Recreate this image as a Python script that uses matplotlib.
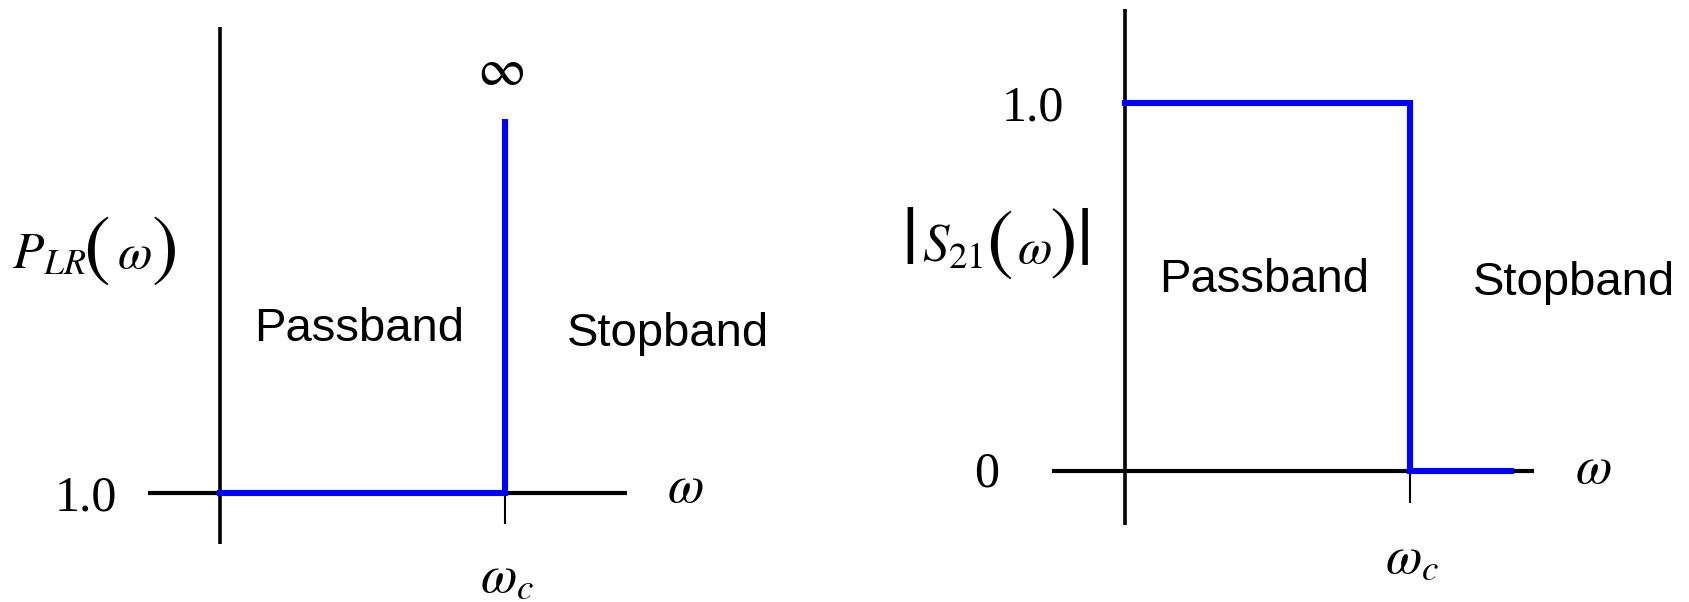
import matplotlib
matplotlib.use("Agg")
import matplotlib.pyplot as plt

plt.rcParams['mathtext.fontset'] = 'stix'

# frequency axis in units of the cutoff, wc = 1
w_c = 1.0

# insertion loss ratio of the ideal low-pass: 1.0 up to wc, then jumps to infinity
plr_w = [0.0, w_c, w_c]
plr_y = [1.0, 1.0, 10.0]     # 10.0 is just the drawn height of the "infinite" rise

# transmission |S21| of the ideal low-pass: 1.0 in the passband, 0 above wc
s21_w = [0.0, w_c, w_c, 1.354]
s21_y = [1.0, 1.0, 0.0, 0.0]

BLUE = '#0000ff'
SANS = 'Liberation Sans'
SERIF = 'STIXGeneral'

W, H = 1690, 602
fig = plt.figure(figsize=(W / 100, H / 100), dpi=100)


def put(x, y, s, size, **kw):
    # place a piece of a formula by pixel position (from top-left)
    fig.text(x / W, 1 - y / H, s, fontsize=size, ha='center', va='center', **kw)


# ---- left: P_LR(w) ----
axL = fig.add_axes([0, 0, 0.5, 1])
axL.set_xlim(-220 / 285, (845 - 220) / 285)
axL.set_ylim(1 - 109 / 41.22, 1 + 493 / 41.22)
axL.axis('off')

axL.plot([0, 0], [-0.238, 12.31], color='black', lw=2.6, solid_capstyle='butt')
axL.plot([-0.253, 1.428], [1.0, 1.0], color='black', lw=3.0, solid_capstyle='butt')
axL.plot([w_c, w_c], [1.0, 0.25], color='black', lw=1.5, solid_capstyle='butt')
axL.plot(plr_w, plr_y, color=BLUE, lw=4.4, solid_joinstyle='miter', zorder=5)

axL.text(0.986, 11.26, r'$\infty$', fontsize=38, ha='center', va='center')
axL.text(1.632, 1.15, r'$\omega$', fontsize=38, ha='center', va='center')
axL.text(1.007, -1.04, r'$\omega_c$', fontsize=38, ha='center', va='center')
axL.text(-0.47, 0.88, '1.0', fontsize=36, family='Liberation Serif', ha='center', va='center')
axL.text(0.488, 4.98, 'Passband', fontsize=34, family=SANS, ha='center', va='center')
axL.text(1.572, 4.86, 'Stopband', fontsize=34, family=SANS, ha='center', va='center')

# y label P_LR(w) with tall parentheses
put(49, 254, r'$P_{LR}$', 37)
put(97, 251.5, '(', 58, family=SERIF)
put(134, 254, r'$\omega$', 36)
put(165, 251.5, ')', 58, family=SERIF)

# ---- right: |S21(w)| ----
axR = fig.add_axes([0.5, 0, 0.5, 1])
axR.set_xlim(-280 / 285, (845 - 280) / 285)
axR.set_ylim(-131 / 368, 471 / 368)
axR.axis('off')

axR.plot([0, 0], [-0.147, 1.255], color='black', lw=2.6, solid_capstyle='butt')
axR.plot([-0.256, 1.435], [0.0, 0.0], color='black', lw=3.0, solid_capstyle='butt')
axR.plot([w_c, w_c], [0.0, -0.087], color='black', lw=1.5, solid_capstyle='butt')
axR.plot(s21_w, s21_y, color=BLUE, lw=4.4, solid_joinstyle='miter', zorder=5)

axR.text(-0.323, 0.986, '1.0', fontsize=36, family='Liberation Serif', ha='center', va='center')
axR.text(-0.484, -0.008, '0', fontsize=36, family='Liberation Serif', ha='center', va='center')
axR.text(0.488, 0.519, 'Passband', fontsize=34, family=SANS, ha='center', va='center')
axR.text(1.575, 0.511, 'Stopband', fontsize=34, family=SANS, ha='center', va='center')
axR.text(1.642, 0.008, r'$\omega$', fontsize=38, ha='center', va='center')
axR.text(1.007, -0.236, r'$\omega_c$', fontsize=38, ha='center', va='center')

# y label |S21(w)| with tall bars and parentheses
put(910, 243.5, '|', 60, family=SERIF)
put(953, 247, r'$S_{21}$', 38)
put(1000, 245.5, '(', 58, family=SERIF)
put(1034, 249, r'$\omega$', 36)
put(1072, 244, ')|', 60, family=SERIF)

fig.savefig('out.png', dpi=100, facecolor='white')
